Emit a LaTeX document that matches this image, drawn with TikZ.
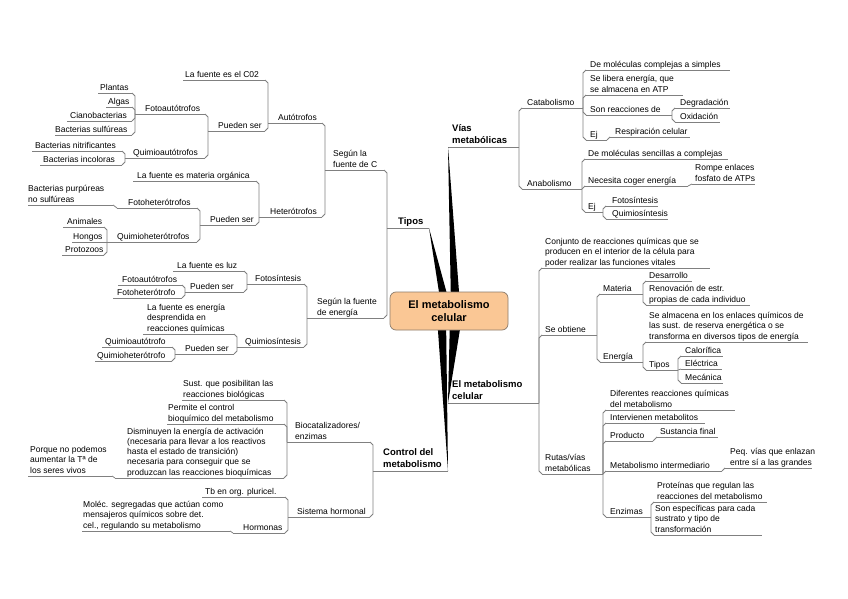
\documentclass[tikz,border=0pt]{standalone}
\usepackage{fontspec}
\setmainfont{Liberation Sans}
\usetikzlibrary{calc}
\definecolor{ctrfill}{HTML}{FAC795}
\definecolor{ctrdraw}{HTML}{8C7B6B}
\definecolor{lncol}{HTML}{808080}
\tikzset{
 ln/.style={draw=lncol, line width=0.8pt, line join=round},
 txt/.style={anchor=south west, inner sep=0pt, align=left, font=\fontsize{8.5}{10.3}\selectfont, execute at end node=\strut},
 btxt/.style={txt, font=\bfseries\fontsize{9.5}{12.5}\selectfont},
 ctrbox/.style={draw=ctrdraw, line width=0.7pt, fill=ctrfill, rounded corners=6pt, minimum width=118pt, minimum height=38pt, align=center, font=\bfseries\fontsize{11}{13}\selectfont, inner sep=2pt},
 wedge/.style={fill=black}
}
\newcommand\mmT[7][txt]{%
 \coordinate (#2-l) at (#3,#5);
 \coordinate (#2-r) at (#4,#5);
 \draw[ln] (#2-l) -- (#2-r);
 \node[#1] (#2) at (#6,#5+0.5) {#7};}
\newcommand\mmL[3]{\draw[ln] (#1-r) -- ($(#1-r -| #2-l)+(0,#3)$) -- (#2-l);}
\newcommand\mmR[3]{\draw[ln] (#1-r) -- ($(#1-r |- #2-l)+(0,#3)$) -- (#2-l);}
\newcommand\mmD[2]{\draw[ln] (#1) -- (#2);}
\begin{document}
\begin{tikzpicture}[x=1pt,y=-1pt]
\fill[white] (0,0) rectangle (848,599);
\useasboundingbox (0,0) rectangle (848,599);

% ---------- Tipos ----------
\mmT[btxt]{tipos}{387}{429}{228}{398}{Tipos}
\mmT{segC}{325}{384}{170}{333}{Según la\\fuente de C}
\mmT{segE}{307}{384}{318}{317}{Según la fuente\\de energía}
\mmL{segC}{tipos}{3}
\mmL{segE}{tipos}{-3}

\mmT{auto}{268}{322}{123}{278}{Autótrofos}
\mmT{hetero}{259}{322}{217}{270}{Heterótrofos}
\mmL{auto}{segC}{3}
\mmL{hetero}{segC}{-3}

\mmT{fuenteC}{183}{265}{80}{185}{La fuente es el C02}
\mmT{pse1}{208}{265}{131}{218}{Pueden ser}
\mmL{fuenteC}{auto}{3}
\mmL{pse1}{auto}{-3}

\mmT{fotoA}{135}{205}{114}{145}{Fotoautótrofos}
\mmT{quimA}{125}{205}{158}{133}{Quimioautótrofos}
\mmL{fotoA}{pse1}{3}
\mmL{quimA}{pse1}{-3}

\mmT{plantas}{98}{132}{93}{100}{Plantas}
\mmT{algas}{106}{132}{107}{108}{Algas}
\mmT{ciano}{67}{132}{121}{70}{Cianobacterias}
\mmT{bsulf}{55}{132}{135}{55}{Bacterias sulfúreas}
\mmL{plantas}{fotoA}{3}
\mmL{algas}{fotoA}{3}
\mmL{ciano}{fotoA}{-3}
\mmL{bsulf}{fotoA}{-3}

\mmT{bnitri}{32}{122}{151}{35}{Bacterias nitrificantes}
\mmT{bincol}{40}{122}{165}{43}{Bacterias incoloras}
\mmL{bnitri}{quimA}{3}
\mmL{bincol}{quimA}{-3}

\mmT{fuenteMO}{133}{256}{181}{137}{La fuente es materia orgánica}
\mmT{pse2}{200}{256}{225}{210}{Pueden ser}
\mmL{fuenteMO}{hetero}{3}
\mmL{pse2}{hetero}{-3}

\mmT{fotoH}{117}{197}{208}{128}{Fotoheterótrofos}
\mmT{quimH}{107}{197}{242}{117}{Quimioheterótrofos}
\mmL{fotoH}{pse2}{3}
\mmL{quimH}{pse2}{-3}

\mmT{bpurp}{28}{113}{205}{28}{Bacterias purpúreas\\no sulfúreas}
\mmD{bpurp-r}{fotoH-l}

\mmT{animales}{63}{104}{227}{67}{Animales}
\mmT{hongos}{72}{104}{242}{73}{Hongos}
\mmT{protozoos}{62}{104}{255}{65}{Protozoos}
\mmL{animales}{quimH}{3}
\mmD{hongos-r}{quimH-l}
\mmL{protozoos}{quimH}{-3}

\mmT{fotos}{247}{304}{284}{255}{Fotosíntesis}
\mmT{quimios}{237}{304}{347}{245}{Quimiosíntesis}
\mmL{fotos}{segE}{3}
\mmL{quimios}{segE}{-3}

\mmT{luz}{173}{244}{271}{177}{La fuente es luz}
\mmT{pse3}{185}{244}{292}{190}{Pueden ser}
\mmL{luz}{fotos}{3}
\mmL{pse3}{fotos}{-3}

\mmT{fotoA2}{118}{182}{285}{122}{Fotoautótrofos}
\mmT{fotoH2}{113}{182}{298}{117}{Fotoheterótrofo}
\mmL{fotoA2}{pse3}{3}
\mmL{fotoH2}{pse3}{-3}

\mmT{energ}{143}{234}{334}{147}{La fuente es energía\\desprendida en\\reacciones químicas}
\mmT{pse4}{175}{234}{354}{185}{Pueden ser}
\mmL{energ}{quimios}{3}
\mmL{pse4}{quimios}{-3}

\mmT{quimA2}{102}{172}{347}{105}{Quimioautótrofo}
\mmT{quimH2}{95}{172}{361}{97}{Quimioheterótrofo}
\mmL{quimA2}{pse4}{3}
\mmL{quimH2}{pse4}{-3}

% ---------- Control ----------
\mmT[btxt]{control}{373}{448}{471}{383}{Control del\\metabolismo}
\mmT{bioc}{287}{370}{442}{295}{Biocatalizadores/\\enzimas}
\mmT{sisth}{288}{370}{517}{297}{Sistema hormonal}
\mmL{bioc}{control}{3}
\mmL{sisth}{control}{-3}

\mmT{sust}{182}{284}{400}{183}{Sust. que posibilitan las\\reacciones biológicas}
\mmT{perm}{167}{284}{424}{168}{Permite el control\\bioquímico del metabolismo}
\mmT{dism}{115}{284}{478}{127}{Disminuyen la energía de activación\\(necesaria para llevar a los reactivos\\hasta el estado de transición)\\necesaria para conseguir que se\\produzcan las reacciones bioquímicas}
\mmL{sust}{bioc}{3}
\mmL{perm}{bioc}{3}
\mmL{dism}{bioc}{-3}

\mmT{porque}{28}{112}{476}{30}{Porque no podemos\\aumentar la Tª de\\los seres vivos}
\mmD{porque-r}{dism-l}

\mmT{tb}{202}{285}{497}{205}{Tb en org. pluricel.}
\mmT{horm}{233}{285}{533}{243}{Hormonas}
\mmL{tb}{sisth}{3}
\mmL{horm}{sisth}{-3}

\mmT{molec}{82}{230}{531}{83}{Moléc. segregadas que actúan como\\mensajeros químicos sobre det.\\cel., regulando su metabolismo}
\mmD{molec-r}{horm-l}

% ---------- Vias metabolicas ----------
\mmT[btxt]{vias}{448}{519}{147}{452}{Vías\\metabólicas}
\mmT{catab}{522}{583}{108}{527}{Catabolismo}
\mmT{anab}{522}{582}{189}{527}{Anabolismo}
\mmR{vias}{catab}{3}
\mmR{vias}{anab}{-3}

\mmT{dmcs}{586}{730}{70}{590}{De moléculas complejas a simples}
\mmT{selib}{586}{683}{95}{590}{Se libera energía, que\\se almacena en ATP}
\mmT{sonr}{586}{672}{115}{590}{Son reacciones de}
\mmT{ej1}{586}{607}{140}{590}{Ej}
\mmR{catab}{dmcs}{3}
\mmR{catab}{selib}{3}
\mmR{catab}{sonr}{-3}
\mmR{catab}{ej1}{-3}

\mmT{degr}{675}{730}{108}{680}{Degradación}
\mmT{oxid}{675}{720}{122}{680}{Oxidación}
\mmR{sonr}{degr}{3}
\mmR{sonr}{oxid}{-3}

\mmT{resp}{610}{690}{137}{615}{Respiración celular}
\mmD{ej1-r}{resp-l}

\mmT{dmsc}{585}{728}{159}{588}{De moléculas sencillas a complejas}
\mmT{neces}{585}{688}{186}{588}{Necesita coger energía}
\mmT{ej2}{585}{603}{212}{588}{Ej}
\mmR{anab}{dmsc}{3}
\mmD{anab-r}{neces-l}
\mmR{anab}{ej2}{-3}

\mmT{rompe}{692}{755}{184}{695}{Rompe enlaces\\fosfato de ATPs}
\mmD{neces-r}{rompe-l}

\mmT{fotos2}{606}{658}{206}{612}{Fotosíntesis}
\mmT{quimios2}{606}{668}{219}{612}{Quimiosíntesis}
\mmR{ej2}{fotos2}{3}
\mmR{ej2}{quimios2}{-3}

% ---------- El metabolismo celular ----------
\mmT[btxt]{emc}{448}{539}{403}{452}{El metabolismo\\celular}
\mmT{conj}{542}{710}{268}{545}{Conjunto de reacciones químicas que se\\producen en el interior de la célula para\\poder realizar las funciones vitales}
\mmT{seob}{542}{597}{335}{545}{Se obtiene}
\mmT{rutas}{542}{603}{474}{545}{Rutas/vías\\metabólicas}
\mmR{emc}{conj}{3}
\mmR{emc}{seob}{3}
\mmR{emc}{rutas}{-3}

\mmT{materia}{600}{643}{294}{603}{Materia}
\mmT{energia}{600}{643}{362}{603}{Energía}
\mmR{seob}{materia}{3}
\mmR{seob}{energia}{-3}

\mmT{desarr}{646}{692}{281}{649}{Desarrollo}
\mmT{renov}{646}{750}{305}{649}{Renovación de estr.\\propias de cada individuo}
\mmR{materia}{desarr}{3}
\mmR{materia}{renov}{-3}

\mmT{sealm}{646}{808}{342}{649}{Se almacena en los enlaces químicos de\\las sust. de reserva energética o se\\transforma en diversos tipos de energía}
\mmT{tiposE}{646}{678}{370}{649}{Tipos}
\mmR{energia}{sealm}{3}
\mmR{energia}{tiposE}{-3}

\mmT{calor}{681}{723}{356}{685}{Calorífica}
\mmT{elec}{681}{722}{369}{685}{Eléctrica}
\mmT{mec}{681}{723}{383}{685}{Mecánica}
\mmR{tiposE}{calor}{3}
\mmD{tiposE-r}{elec-l}
\mmR{tiposE}{mec}{-3}

\mmT{difer}{606}{735}{410}{610}{Diferentes reacciones químicas\\del metabolismo}
\mmT{interv}{606}{705}{423}{610}{Intervienen metabolitos}
\mmT{prod}{606}{653}{441}{610}{Producto}
\mmT{metint}{606}{722}{471}{610}{Metabolismo intermediario}
\mmT{enz}{606}{651}{517}{610}{Enzimas}
\mmR{rutas}{difer}{3}
\mmR{rutas}{interv}{3}
\mmR{rutas}{prod}{3}
\mmR{rutas}{metint}{3}
\mmR{rutas}{enz}{-3}

\mmT{sust2}{657}{718}{437}{660}{Sustancia final}
\mmD{prod-r}{sust2-l}
\mmT{peq}{725}{812}{468}{730}{Peq. vías que enlazan\\entre sí a las grandes}
\mmD{metint-r}{peq-l}

\mmT{prot}{654}{767}{502}{657}{Proteínas que regulan las\\reacciones del metabolismo}
\mmT{espec}{654}{762}{535}{655}{Son específicas para cada\\sustrato y tipo de\\transformación}
\mmR{enz}{prot}{3}
\mmR{enz}{espec}{-3}

% ---------- central wedges and node ----------
\coordinate (c0) at (449,311);
\fill[wedge] (vias-l) -- ($(c0)+(11,-6)$) -- ($(c0)+(2,-6)$) -- cycle;
\fill[wedge] (tipos-r) -- ($(c0)+(1,-6)$) -- ($(c0)+(-8,-6)$) -- cycle;
\fill[wedge] (emc-l) -- ($(c0)+(1,6)$) -- ($(c0)+(13,6)$) -- cycle;
\fill[wedge] (control-r) -- ($(c0)+(-12,6)$) -- ($(c0)+(-3,6)$) -- cycle;
\node[ctrbox] (ctr) at (c0) {El metabolismo\\celular};
\end{tikzpicture}
\end{document}
